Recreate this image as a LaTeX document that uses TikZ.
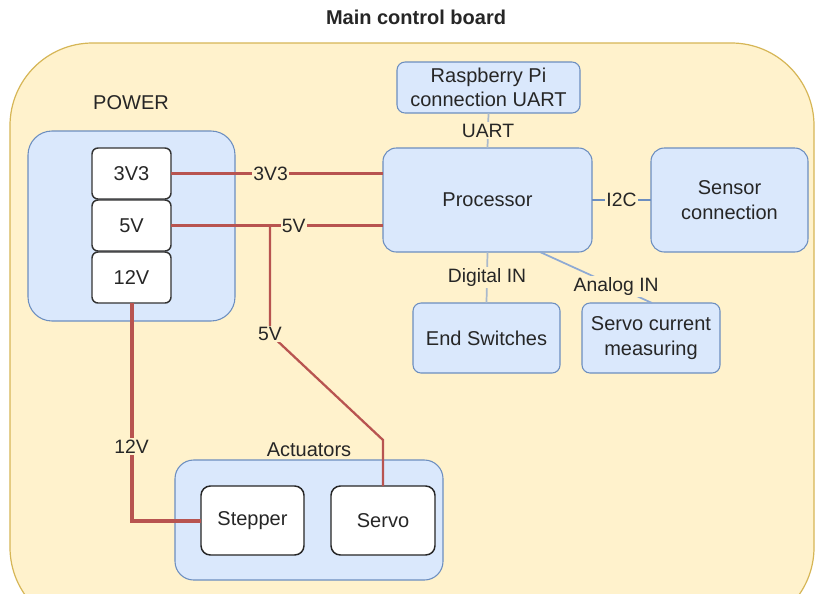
\documentclass[tikz,border=0pt]{standalone}
\usepackage{fontspec}
\setmainfont{Liberation Sans}
\definecolor{bfill}{HTML}{FFF2CC}
\definecolor{bdraw}{HTML}{D6B656}
\definecolor{lblue}{HTML}{DAE8FC}
\definecolor{gblue}{HTML}{6C8EBF}
\definecolor{wred}{HTML}{B85450}
\definecolor{cgray}{HTML}{A9B9CC}
\definecolor{cblue}{HTML}{8EAAD4}
\begin{document}
\begin{tikzpicture}[x=0.75pt,y=-0.75pt,
  every node/.style={inner sep=0pt, outer sep=0pt},
  txt/.style={font=\fontsize{15}{18.5}\selectfont, align=center, text=black!85},
  boardbox/.style={draw=bdraw, fill=bfill, line width=0.9pt, rounded corners=62pt},
  grp/.style={draw=gblue, fill=lblue, line width=0.8pt, rounded corners=#1, txt},
  railbox/.style={draw=black!80, fill=white, line width=1.1pt, rounded corners=4.5pt, txt},
  wbox/.style={draw=black!85, fill=white, line width=1.1pt, rounded corners=7pt, txt},
  lbl/.style={fill=bfill, inner sep=1pt, font=\fontsize{14.5}{17}\selectfont, text=black!85},
  wire/.style={draw=wred, line width=#1},
  sig/.style={draw=#1, line width=1.3pt}
]
\useasboundingbox (0,0) rectangle (816,593);
\fill[white] (0,0) rectangle (816,593);

\node[font=\bfseries\fontsize{15}{18}\selectfont, text=black!85] (title) at (416,17) {Main control board};
\node[boardbox, minimum width=603pt, minimum height=440.25pt] (board) at (412,336.5) {};

\node[txt] (powerlbl) at (131,103) {POWER};
\node[grp=18pt, minimum width=155.25pt, minimum height=142.5pt] (power) at (131.5,226) {};
\node[railbox, minimum width=59.25pt, minimum height=38.25pt] (p3) at (131.5,173.5) {3V3};
\node[railbox, minimum width=59.25pt, minimum height=38.25pt] (p5) at (131.5,225.5) {5V};
\node[railbox, minimum width=59.25pt, minimum height=38.25pt] (p12) at (131.5,277.5) {12V};

\node[grp=6pt, minimum width=137.25pt, minimum height=38.25pt] (rpi) at (488.5,87.5) {Raspberry Pi\\connection UART};
\node[grp=10pt, minimum width=156.75pt, minimum height=78pt] (proc) at (487.5,200) {Processor};
\node[grp=10pt, minimum width=117.75pt, minimum height=78pt] (sensor) at (729.5,200) {Sensor\\connection};
\node[grp=6pt, minimum width=110.25pt, minimum height=52.5pt] (endsw) at (486.5,338) {End Switches};
\node[grp=6pt, minimum width=103.5pt, minimum height=52.5pt] (scm) at (651,338) {Servo current\\measuring};

\node[txt] (actlbl) at (309,450) {Actuators};
\node[grp=14pt, minimum width=201pt, minimum height=90pt] (act) at (309,520) {};
\node[wbox, minimum width=77.25pt, minimum height=51.75pt] (stepper) at (252.5,520.5) {Stepper};
\node[wbox, minimum width=78pt, minimum height=51.75pt] (servo) at (383,520.5) {Servo};

% signal connectors
\draw[sig=cgray] (rpi.south) -- node[lbl] {UART} (proc.north);
\draw[sig=gblue] (proc.east) -- node[lbl] {I2C} (sensor.west);
\draw[sig=cgray] (proc.south) -- node[lbl] {Digital IN} (endsw.north);
\coordinate (aout) at (540,252);
\coordinate (ain) at (652,303);
\draw[sig=cblue] (aout) -- node[lbl, pos=0.68] {Analog IN} (ain);

% power wires
\draw[wire=1.7pt] (p3.east) -- node[lbl, pos=0.47] {3V3} (p3.east -| proc.west);
\coordinate (j5) at (270,225.5);
\draw[wire=2.2pt] (p5.east) -- (j5);
\draw[wire=1.7pt] (j5) -- node[lbl, pos=0.21] {5V} (p5.east -| proc.west);
\coordinate (b1) at (270,334);
\coordinate (b2) at (383,440);
\draw[wire=1.7pt] (j5) -- (b1) -- (b2) -- (servo.north);
\node[lbl] (l5b) at (b1) {5V};
\draw[wire=3pt] (p12.south) |- node[lbl, pos=0.33] {12V} (stepper.west);
\end{tikzpicture}
\end{document}
